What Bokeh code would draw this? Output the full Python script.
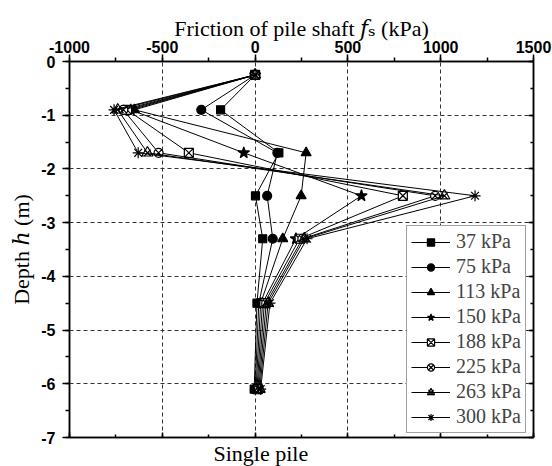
from bokeh.plotting import figure
from bokeh.models import (Range1d, LinearAxis, Legend, LegendItem, Title,
                          SingleIntervalTicker, PrintfTickFormatter)
from bokeh.embed import file_html
from bokeh.resources import INLINE

# ---------------- data ----------------
depth = [-0.25, -0.9, -1.7, -2.5, -3.3, -4.5, -6.1]
labels = ["37 kPa", "75 kPa", "113 kPa", "150 kPa", "188 kPa", "225 kPa", "263 kPa", "300 kPa"]
fs_37 = [0, -186, 128, 2, 41, 10, -5]
fs_75 = [0, -290, 120, 65, 95, 20, 0]
fs_113 = [0, -650, 275, 248, 149, 30, 5]
fs_150 = [0, -670, -61, 573, 220, 40, 10]
fs_188 = [0, -690, -357, 796, 240, 50, 15]
fs_225 = [0, -710, -520, 970, 255, 60, 20]
fs_263 = [0, -740, -580, 1020, 265, 70, 25]
fs_300 = [0, -760, -630, 1185, 280, 80, 30]
x_ticks_interval = 500
y_ticks_interval = 1
x_title = "Friction of pile shaft \U0001D453\u209B (kPa)"
y_title = "Depth \u210E (m)"
bottom_title = "Single pile"

series = [fs_37, fs_75, fs_113, fs_150, fs_188, fs_225, fs_263, fs_300]
# marker specs: list of (marker, size, fill)
marker_specs = [
    [("square", 8, "black")],
    [("circle", 9, "black")],
    [("triangle", 10, "black")],
    [("star", 12, "black")],
    [("square_x", 9, "white")],
    [("circle_x", 9, "white")],
    [("triangle", 11, None), ("x", 9, None)],
    [("asterisk", 11, None)],
]

SERIF = "Liberation Serif, DejaVu Serif, DejaVu Sans"
SANS = "Liberation Sans"

p = figure(width=552, height=466, x_range=Range1d(-1000, 1500), y_range=Range1d(-7, 0),
           x_axis_location="above", output_backend="svg", toolbar_location=None,
           min_border_left=69, min_border_right=19, min_border_top=61, min_border_bottom=29)
p.background_fill_color = "white"
p.border_fill_color = "white"
p.outline_line_color = "black"
p.outline_line_width = 1.5

xt = SingleIntervalTicker(interval=x_ticks_interval, num_minor_ticks=2)
yt = SingleIntervalTicker(interval=y_ticks_interval, num_minor_ticks=2)

top = p.above[0]
left = p.left[0]
for ax, t in ((top, xt), (left, yt)):
    ax.ticker = t
    ax.formatter = PrintfTickFormatter(format="%d")
    ax.axis_line_color = "black"
    ax.axis_line_width = 1.5
    ax.major_tick_line_color = "black"
    ax.major_tick_line_width = 1.5
    ax.minor_tick_line_color = "black"
    ax.minor_tick_line_width = 1.5
    ax.major_tick_in = 0
    ax.major_tick_out = 7
    ax.minor_tick_in = 0
    ax.minor_tick_out = 4
    ax.major_label_text_font = SANS
    ax.major_label_text_font_style = "bold"
    ax.major_label_text_font_size = "16px"
    ax.major_label_text_color = "black"
    ax.axis_label_text_font = SERIF
    ax.axis_label_text_font_size = "22px"
    ax.axis_label_text_font_style = "normal"
    ax.axis_label_text_color = "black"
top.major_label_standoff = 2
top.axis_label = x_title
top.axis_label_standoff = -3
left.major_label_standoff = 7
left.axis_label = y_title
left.axis_label_standoff = 4

bottom = LinearAxis(ticker=xt, formatter=PrintfTickFormatter(format=""),
                    major_label_text_font_size="1px", major_label_standoff=0,
                    major_tick_in=5, major_tick_out=0, minor_tick_in=3, minor_tick_out=0,
                    axis_line_color="black", axis_line_width=1.5,
                    major_tick_line_width=1.5, minor_tick_line_width=1.5)
right = LinearAxis(ticker=yt, formatter=PrintfTickFormatter(format=""),
                   major_label_text_font_size="1px", major_label_standoff=0,
                   major_tick_in=5, major_tick_out=0, minor_tick_in=3, minor_tick_out=0,
                   axis_line_color="black", axis_line_width=1.5,
                   major_tick_line_width=1.5, minor_tick_line_width=1.5)
p.add_layout(bottom, "below")
p.add_layout(right, "right")

p.add_layout(Title(text=bottom_title, align="left", offset=144, standoff=2,
                   text_font=SERIF, text_font_size="22px", text_font_style="normal",
                   text_color="black"), "below")

p.xgrid.ticker = xt
p.ygrid.ticker = yt
for g in (p.xgrid, p.ygrid):
    g.grid_line_color = "#333333"
    g.grid_line_dash = "4 3"
    g.grid_line_width = 1

items = []
for lab, xs, specs in zip(labels, series, marker_specs):
    rs = [p.line(xs, depth, line_color="black", line_width=1)]
    for (mk, sz, fill) in specs:
        rs.append(p.scatter(xs, depth, marker=mk, size=sz, line_color="black",
                            fill_color=fill, line_width=1.2))
    items.append(LegendItem(label=lab, renderers=rs))

legend = Legend(items=items, location=(337, 4), glyph_width=39, glyph_height=18,
                label_height=18, label_standoff=6, spacing=2, padding=4, margin=0,
                label_text_font="Liberation Serif", label_text_font_size="20px",
                border_line_color="#444444", border_line_width=1,
                background_fill_color="white", background_fill_alpha=1)
p.add_layout(legend)

open("out.html", "w").write(file_html(p, INLINE))
